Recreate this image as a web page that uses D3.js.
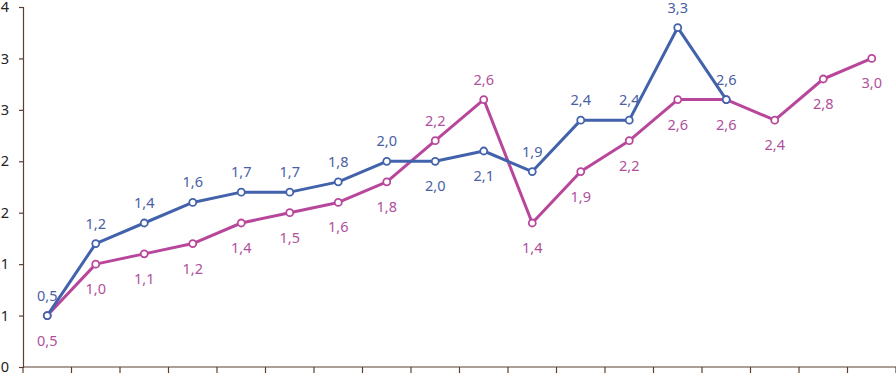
<!DOCTYPE html>
<html>
<head>
<meta charset="utf-8">
<script src="https://cdn.jsdelivr.net/npm/d3@7"></script>
<style>
  body { margin: 0; background: #fff; }
  svg { display: block; font-family: "Noto Sans", "Open Sans", sans-serif; }
</style>
</head>
<body>
<div id="chart"></div>
<script>
// categories (no visible labels on the x axis)
const categories = d3.range(1, 19);
// series values (null = no point)
const blueValues = [0.5, 1.2, 1.4, 1.6, 1.7, 1.7, 1.8, 2.0, 2.0, 2.1, 1.9, 2.4, 2.4, 3.3, 2.6, null, null, null];
const pinkValues = [0.5, 1.0, 1.1, 1.2, 1.4, 1.5, 1.6, 1.8, 2.2, 2.6, 1.4, 1.9, 2.2, 2.6, 2.6, 2.4, 2.8, 3.0];
// label placement: true = above the point
const blueAbove = [true, true, true, true, true, true, true, true, false, false, true, true, true, true, true];
const pinkAbove = [false, false, false, false, false, false, false, false, true, true, false, false, false, false, false, false, false, false];
// y ticks and their labels as printed
const yTicks = [0, 0.5, 1, 1.5, 2, 2.5, 3, 3.5];
const yTickLabels = ["0", "1", "1", "2", "2", "3", "3", "4"];

const width = 896, height = 374;
const margin = {top: 7, right: 0, bottom: 7, left: 23};

const svg = d3.select("#chart").append("svg")
    .attr("width", width)
    .attr("height", height);

const x = d3.scaleBand()
    .domain(categories)
    .range([margin.left, width - margin.right])
    .padding(0);

const y = d3.scaleLinear()
    .domain([0, 3.5])
    .range([height - margin.bottom, margin.top]);

const axisColor = "#5b4030";

// Y axis
const yAxis = svg.append("g")
    .attr("transform", `translate(${margin.left},0)`)
    .call(d3.axisLeft(y).tickValues(yTicks).tickSize(4).tickPadding(10)
        .tickFormat((d, i) => yTickLabels[i]));
yAxis.select(".domain").attr("stroke", axisColor).attr("stroke-width", 1.2);
yAxis.selectAll(".tick line").attr("stroke", axisColor).attr("stroke-width", 1.2);
yAxis.selectAll(".tick text").attr("fill", "#222").style("font-size", "14.5px")
    .style("font-family", "'Noto Sans', sans-serif");

// X axis: ticks at the band edges
const xEdges = categories.map(c => x(c)).concat([x(categories[categories.length - 1]) + x.bandwidth()]);
const xAxisG = svg.append("g");
xAxisG.append("line")
    .attr("x1", margin.left).attr("x2", width)
    .attr("y1", y(0)).attr("y2", y(0))
    .attr("stroke", axisColor).attr("stroke-width", 1.2);
xAxisG.selectAll("line.tick")
    .data(xEdges)
    .enter().append("line")
    .attr("class", "tick")
    .attr("x1", d => d).attr("x2", d => d)
    .attr("y1", y(0)).attr("y2", y(0) + 6)
    .attr("stroke", axisColor).attr("stroke-width", 1.2);

const cx = i => x(categories[i]) + x.bandwidth() / 2;

function drawSeries(values, above, lineColor, labelColor) {
    const pts = values.map((v, i) => ({i, v})).filter(d => d.v != null);

    const line = d3.line()
        .x(d => cx(d.i))
        .y(d => y(d.v));

    svg.append("path")
        .datum(pts)
        .attr("fill", "none")
        .attr("stroke", lineColor)
        .attr("stroke-width", 3)
        .attr("stroke-linejoin", "round")
        .attr("d", line);

    svg.selectAll(null)
        .data(pts)
        .enter().append("circle")
        .attr("cx", d => cx(d.i))
        .attr("cy", d => y(d.v))
        .attr("r", 3.5)
        .attr("fill", "#fff")
        .attr("stroke", lineColor)
        .attr("stroke-width", 1.8);

    svg.selectAll(null)
        .data(pts)
        .enter().append("text")
        .attr("x", d => cx(d.i))
        .attr("y", d => y(d.v) + (above[d.i] ? -15 : 30))
        .attr("text-anchor", "middle")
        .attr("fill", labelColor)
        .style("font-size", "14.5px")
        .text(d => d.v.toFixed(1).replace(".", ","));
}

drawSeries(pinkValues, pinkAbove, "#b8479c", "#b0509c");
drawSeries(blueValues, blueAbove, "#4262ab", "#4a60a5");
</script>
</body>
</html>
